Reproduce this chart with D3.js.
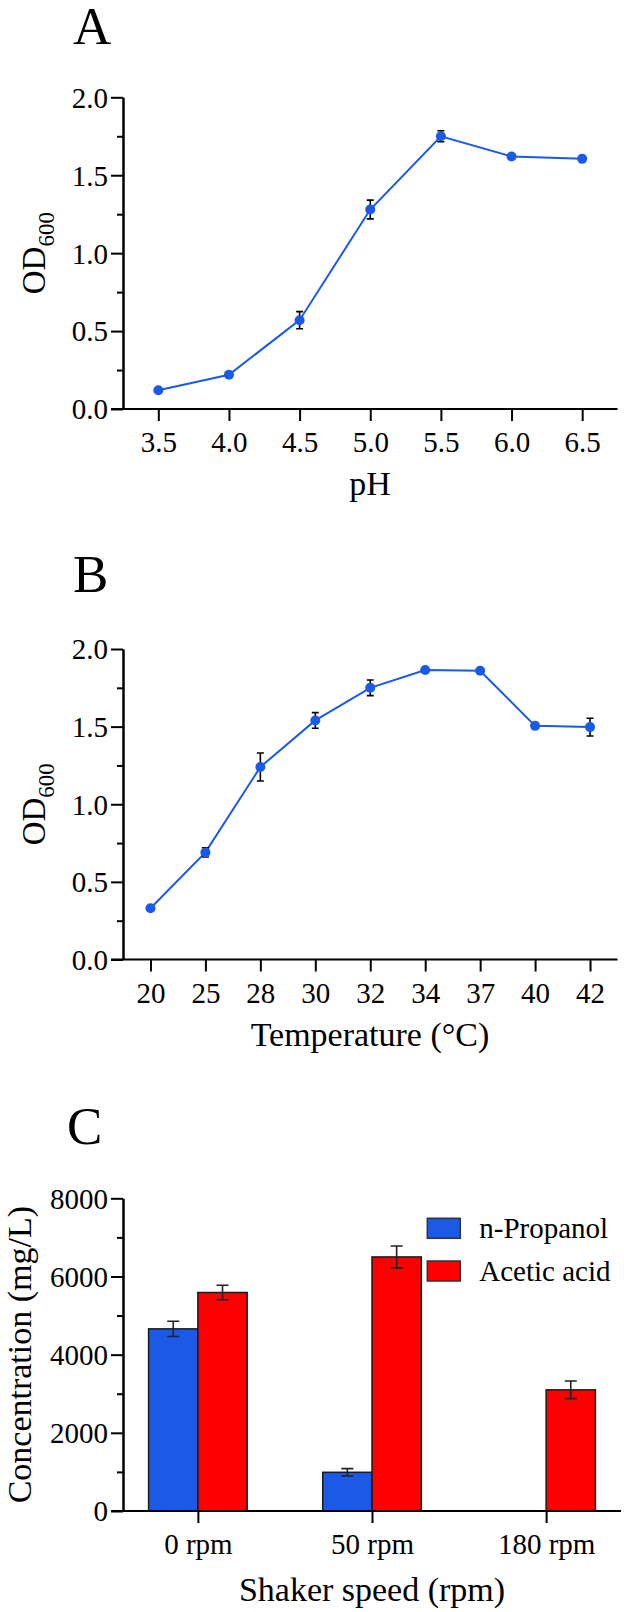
<!DOCTYPE html>
<html lang="en">
<head>
  <meta charset="UTF-8">
  <title>Growth conditions</title>
  <script src="https://d3js.org/d3.v7.min.js"></script>
  <style>
    body { margin: 0; background: #fff; }
    svg { display: block; font-family: "Liberation Serif", "Times New Roman", serif; }
    .axis path, .axis line { stroke: #000; stroke-width: 2; }
    .title { font-size: 34px; }
    .letter { font-size: 53px; }
  </style>
</head>
<body>
  <div id="chart"></div>

  <script>
    // panel A: pH
    const phLabels = ["3.5", "4.0", "4.5", "5.0", "5.5", "6.0", "6.5"];
    const phOD = [0.12, 0.22, 0.57, 1.28, 1.75, 1.62, 1.605];
    const phErr = [0.01, 0.015, 0.055, 0.06, 0.035, 0.012, 0.01];

    // panel B: temperature
    const tempLabels = ["20", "25", "28", "30", "32", "34", "37", "40", "42"];
    const tempOD = [0.33, 0.69, 1.24, 1.54, 1.75, 1.865, 1.86, 1.505, 1.497];
    const tempErr = [0.01, 0.03, 0.09, 0.05, 0.05, 0.01, 0.01, 0.01, 0.057];

    // panel C: shaker speed
    const speeds = ["0 rpm", "50 rpm", "180 rpm"];
    const series = ["n-Propanol", "Acetic acid"];
    const propanol = [4660, 990, 0];
    const propanolErr = [195, 95, 0];
    const acetic = [5590, 6500, 3100];
    const aceticErr = [185, 280, 225];

    const width = 624;
    const height = 1612;
    const blue = "#1a5ae6";
    const red = "#ff0000";
    const serif = "'Liberation Serif', 'Times New Roman', serif";

    const svg = d3.select("#chart").append("svg")
      .attr("width", width)
      .attr("height", height);

    function styleTicks(ax) {
      ax.attr("font-family", serif).attr("font-size", 29);
      ax.selectAll("text").attr("font-family", serif).attr("font-size", 29).attr("fill", "#000");
    }

    function yAxes(g, y, left, major, minor, fmt) {
      g.append("g")
        .attr("class", "axis")
        .attr("transform", `translate(${left},0)`)
        .call(d3.axisLeft(y).tickValues(minor).tickSize(6).tickSizeOuter(0).tickFormat(""));
      const ax = g.append("g")
        .attr("class", "axis")
        .attr("transform", `translate(${left},0)`)
        .call(d3.axisLeft(y).tickValues(major).tickSize(12).tickSizeOuter(0).tickFormat(fmt));
      styleTicks(ax);
      ax.selectAll("text").attr("x", -15).attr("dy", "0.34em");
    }

    function xAxis(g, x, base, left, right) {
      const ax = g.append("g")
        .attr("class", "axis")
        .attr("transform", `translate(0,${base})`)
        .call(d3.axisBottom(x).tickSize(12).tickSizeOuter(0));
      ax.select(".domain").attr("d", `M${left - 12},0H${right}`);
      styleTicks(ax);
      ax.selectAll("text").attr("y", 0).attr("dy", 0).attr("transform", "translate(0,43)");
    }

    function linePanel(top, bottom, labels, vals, errs, xTitle) {
      const g = svg.append("g");
      const x = d3.scalePoint().domain(labels).range([123, 617.5]).padding(0.5);
      const y = d3.scaleLinear().domain([0, 2]).range([bottom, top]);

      yAxes(g, y, 123, [0, 0.5, 1, 1.5, 2], [0.25, 0.75, 1.25, 1.75], d3.format(".1f"));
      xAxis(g, x, bottom, 123, 617.5);

      const pts = labels.map((l, i) => ({ l, v: vals[i], e: errs[i] }));

      g.append("path")
        .datum(pts)
        .attr("fill", "none")
        .attr("stroke", blue)
        .attr("stroke-width", 2)
        .attr("d", d3.line().x(d => x(d.l)).y(d => y(d.v)));

      const eb = g.append("g").attr("stroke", "#000").attr("stroke-width", 1.6);
      pts.forEach(d => {
        const cx = x(d.l), y0 = y(d.v - d.e), y1 = y(d.v + d.e);
        eb.append("path").attr("d", `M${cx},${y0}V${y1}M${cx - 3.5},${y0}H${cx + 3.5}M${cx - 3.5},${y1}H${cx + 3.5}`);
      });

      g.append("g").selectAll("circle")
        .data(pts)
        .join("circle")
        .attr("cx", d => x(d.l))
        .attr("cy", d => y(d.v))
        .attr("r", 5)
        .attr("fill", blue);

      const mid = (top + bottom) / 2;
      const od = g.append("text")
        .attr("font-size", 33)
        .attr("text-anchor", "middle")
        .attr("transform", `translate(45,${mid}) rotate(-90)`);
      od.append("tspan").text("OD");
      od.append("tspan").attr("font-size", 23).attr("dy", 9).text("600");

      g.append("text")
        .attr("class", "title")
        .attr("x", 370)
        .attr("y", bottom + 86)
        .attr("text-anchor", "middle")
        .text(xTitle);
    }

    linePanel(97.3, 409, phLabels, phOD, phErr, "pH");
    linePanel(649, 959.5, tempLabels, tempOD, tempErr, "Temperature (°C)");

    svg.append("text").attr("class", "letter").attr("x", 73).attr("y", 44).text("A");
    svg.append("text").attr("class", "letter").attr("x", 73).attr("y", 592).text("B");
    svg.append("text").attr("class", "letter").attr("x", 67).attr("y", 1144).text("C");

    // panel C: grouped bars
    const gc = svg.append("g");
    const xc = d3.scalePoint().domain(speeds).range([123, 621]).padding(0.43);
    const yc = d3.scaleLinear().domain([0, 8000]).range([1511, 1198.3]);
    const barW = xc.step() * 0.283;
    const xs = d3.scaleBand().domain(series).range([-barW, barW]);
    const colors = d3.scaleOrdinal().domain(series).range([blue, red]);

    const rows = [];
    speeds.forEach((s, i) => {
      rows.push({ s, k: series[0], v: propanol[i], e: propanolErr[i] });
      rows.push({ s, k: series[1], v: acetic[i], e: aceticErr[i] });
    });
    const shown = rows.filter(d => d.v > 0);

    gc.append("g").selectAll("rect")
      .data(shown)
      .join("rect")
      .attr("x", d => xc(d.s) + xs(d.k))
      .attr("y", d => yc(d.v))
      .attr("width", xs.bandwidth())
      .attr("height", d => yc(0) - yc(d.v))
      .attr("fill", d => colors(d.k))
      .attr("stroke", "#1a1a1a")
      .attr("stroke-width", 1.5);

    const ebc = gc.append("g").attr("stroke", "#222").attr("stroke-width", 1.6);
    shown.forEach(d => {
      const cx = xc(d.s) + xs(d.k) + xs.bandwidth() / 2;
      const y0 = yc(d.v - d.e), y1 = yc(d.v + d.e);
      ebc.append("path").attr("d", `M${cx},${y0}V${y1}M${cx - 6},${y0}H${cx + 6}M${cx - 6},${y1}H${cx + 6}`);
    });

    yAxes(gc, yc, 123, [0, 2000, 4000, 6000, 8000], [1000, 3000, 5000, 7000], d3.format("d"));
    xAxis(gc, xc, 1511, 123, 621);

    gc.append("text")
      .attr("class", "title")
      .attr("text-anchor", "middle")
      .attr("transform", `translate(31,${(1198.3 + 1511) / 2}) rotate(-90)`)
      .text("Concentration (mg/L)");

    gc.append("text")
      .attr("class", "title")
      .attr("x", 372)
      .attr("y", 1601)
      .attr("text-anchor", "middle")
      .text("Shaker speed (rpm)");

    const legend = gc.append("g").selectAll("g")
      .data(series)
      .join("g")
      .attr("transform", (d, i) => `translate(427.3,${1218.3 + i * 42.7})`);
    legend.append("rect")
      .attr("width", 33)
      .attr("height", 20)
      .attr("fill", d => colors(d))
      .attr("stroke", "#333")
      .attr("stroke-width", 1.5);
    legend.append("text")
      .attr("x", 52)
      .attr("y", 19.5)
      .attr("font-size", 29)
      .text(d => d);
  </script>
</body>
</html>
